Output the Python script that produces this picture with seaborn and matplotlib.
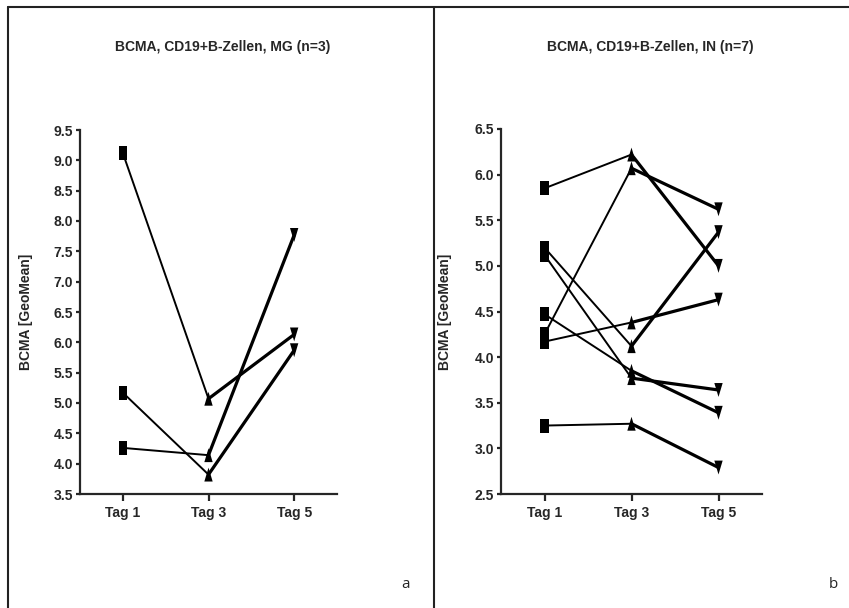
import matplotlib
matplotlib.use("Agg")
import matplotlib.pyplot as plt
from matplotlib.lines import Line2D
import seaborn as sns
import pandas as pd

sns.set_style("ticks")
plt.rcParams['font.family'] = ['Liberation Sans', 'DejaVu Sans']

tage = ['Tag 1', 'Tag 3', 'Tag 5']

# MG (n=3)
mg_tag1 = [9.12, 5.17, 4.26]
mg_tag3 = [5.07, 3.82, 4.14]
mg_tag5 = [6.13, 5.87, 7.77]

# IN (n=7)
in_tag1 = [5.85, 4.25, 4.17, 5.20, 5.12, 4.47, 3.25]
in_tag3 = [6.22, 6.07, 4.38, 4.12, 3.77, 3.85, 3.27]
in_tag5 = [5.00, 5.62, 4.63, 5.37, 3.64, 3.39, 2.79]

# marker shapes (tall rectangle, narrow triangles)
m_rect = [(-0.31, -0.5), (0.31, -0.5), (0.31, 0.5), (-0.31, 0.5)]
m_up = [(0, 0.5), (-0.3, -0.5), (0.3, -0.5)]
m_down = [(0, -0.5), (-0.3, 0.5), (0.3, 0.5)]


def long_df(t1, t3, t5):
    rows = []
    for i in range(len(t1)):
        for j, v in enumerate([t1[i], t3[i], t5[i]]):
            rows.append({'id': i, 'tag': j, 'wert': v})
    return pd.DataFrame(rows)


def panel(ax, df, ylim, yticks):
    sns.lineplot(data=df[df.tag <= 1], x='tag', y='wert', units='id', estimator=None,
                 color='black', lw=1.4, ax=ax)
    sns.lineplot(data=df[df.tag >= 1], x='tag', y='wert', units='id', estimator=None,
                 color='black', lw=2.3, ax=ax)
    for j, m in enumerate([m_rect, m_up, m_down]):
        sns.scatterplot(data=df[df.tag == j], x='tag', y='wert', marker=m, s=100,
                        color='black', edgecolor='none', ax=ax, zorder=5)
    ax.set_xlim(-0.5, 2.5)
    ax.set_ylim(*ylim)
    ax.set_yticks(yticks)
    ax.set_yticklabels(['%.1f' % t for t in yticks], fontsize=10, fontweight='bold')
    ax.set_xticks(range(3))
    ax.set_xticklabels(tage, fontsize=10, fontweight='bold')
    ax.set_xlabel('')
    ax.set_ylabel('BCMA [GeoMean]', fontsize=10, fontweight='bold')
    sns.despine(ax=ax)
    for s in ['left', 'bottom']:
        ax.spines[s].set_linewidth(1.6)
    ax.tick_params(axis='y', width=1.6, length=3, pad=2)
    ax.tick_params(axis='x', width=1.6, length=5, pad=4)


fig = plt.figure(figsize=(8.49, 6.08), dpi=100)
W, H = 849, 608

ax1 = fig.add_axes([80 / W, 1 - 494 / H, 257 / W, 364 / H])
ax2 = fig.add_axes([501 / W, 1 - 494 / H, 261 / W, 365 / H])

panel(ax1, long_df(mg_tag1, mg_tag3, mg_tag5), (3.5, 9.5),
      [3.5, 4.0, 4.5, 5.0, 5.5, 6.0, 6.5, 7.0, 7.5, 8.0, 8.5, 9.0, 9.5])
panel(ax2, long_df(in_tag1, in_tag3, in_tag5), (2.5, 6.5),
      [2.5, 3.0, 3.5, 4.0, 4.5, 5.0, 5.5, 6.0, 6.5])
ax1.yaxis.set_label_coords(-0.183, 0.5)
ax2.yaxis.set_label_coords(-0.188, 0.5)

# table frame
for xs, ys in [([8, W], [6.5, 6.5]), ([8, 8], [6.5, H]), ([434, 434], [6.5, H])]:
    fig.add_artist(Line2D([x / W for x in xs], [1 - y / H for y in ys],
                          transform=fig.transFigure, color='#222222', lw=1.5))

fig.text(223 / W, 1 - 47 / H, 'BCMA, CD19+B-Zellen, MG (n=3)', ha='center', va='center',
         fontsize=10, fontweight='bold')
fig.text(650 / W, 1 - 47 / H, 'BCMA, CD19+B-Zellen, IN (n=7)', ha='center', va='center',
         fontsize=10, fontweight='bold')
fig.text(405 / W, 1 - 584 / H, 'a', ha='center', va='center', fontsize=11,
         family=['Open Sans', 'DejaVu Sans'])
fig.text(833 / W, 1 - 584 / H, 'b', ha='center', va='center', fontsize=11,
         family=['Open Sans', 'DejaVu Sans'])

fig.savefig('out.png', dpi=100)
